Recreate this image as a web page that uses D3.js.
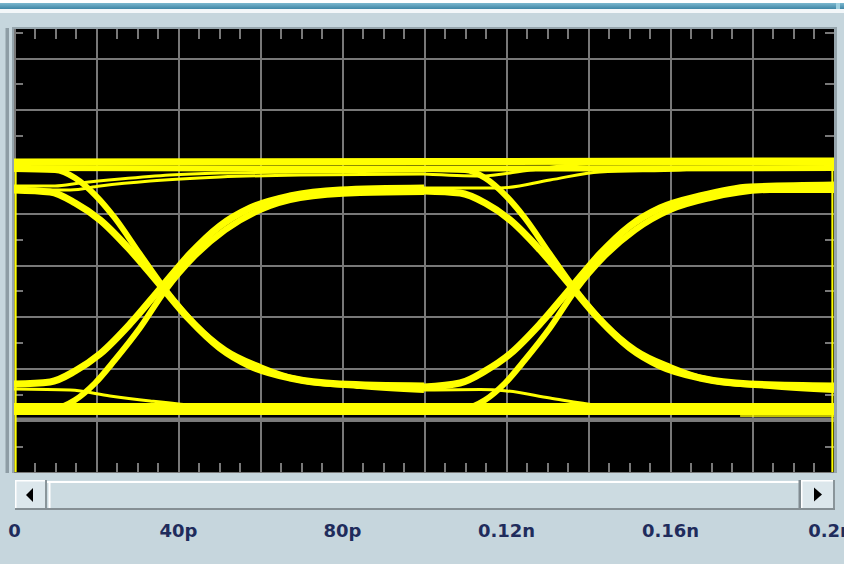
<!DOCTYPE html>
<html><head><meta charset="utf-8">
<script src="https://cdn.jsdelivr.net/npm/d3@7/dist/d3.min.js"></script>
<style>html,body{margin:0;padding:0;background:#c6d6dd;overflow:hidden}</style>
</head><body>
<svg id="c" width="844" height="564" xmlns="http://www.w3.org/2000/svg"></svg>
<script>
// ---------- data (time in ps, level in mV) ----------
const timeTicks = [0, 40, 80, 120, 160, 200];
const tickLabels = ["0", "40p", "80p", "0.12n", "0.16n", "0.2n"];
const gridTimes = [0, 20, 40, 60, 80, 100, 120, 140, 160, 180, 200];
const minorTimes = [5,10,15,25,30,35,45,50,55,65,70,75,85,90,95,105,110,115,125,130,135,145,150,155,165,170,175,185,190,195];
const gridLevels = [-200, -150, -100, -50, 0, 50, 100, 150, 200, 250];
const minorLevels = [-175, -125, -75, -25, 25, 75, 125, 175, 225];
const referenceLevel = [-149.3];

// steady levels
const hiSteadyA = [[0, 99.6], [100, 100.0], [200, 100.5]];
const hiSteadyB = [[0, 93.7], [100, 93.2], [200, 93.7]];
const loSteadyA = [[0, -136.2], [100, -136.2], [200, -136.2]];
const loSteadyB = [[0, -142.0], [100, -142.0], [200, -142.0]];

// first unit interval (0..100 ps)
const fallFromH1L = [[0,72.5],[8.8,70.5],[14.9,59.9],[21.0,43.5],[28.3,14.5],[35.6,-19.3],[42.9,-53.1],[50.2,-80.2],[57.6,-97.6],[67.3,-109.2],[79.5,-115.0],[100,-116.9]];
const fallFromHinfL = [[0,92.8],[10.0,91.8],[14.9,84.1],[19.8,67.6],[24.6,45.4],[30.7,10.6],[36.8,-23.2],[44.1,-57.0],[51.5,-82.1],[60.0,-98.5],[69.8,-111.1],[84.4,-116.9],[100,-120.8]];
const riseFromL1L = [[0,-115.0],[8.8,-113.0],[14.9,-102.4],[21.0,-85.9],[28.3,-57.0],[35.6,-23.2],[42.9,10.6],[50.2,37.7],[57.6,55.1],[67.3,66.7],[79.5,72.5],[100,74.4]];
const riseFromLinfL = [[0,-139.1],[10.0,-138.2],[14.9,-130.4],[19.8,-114.0],[24.6,-91.8],[30.7,-60.9],[36.8,-25.1],[44.1,8.7],[51.5,33.8],[60.0,53.1],[69.8,64.7],[84.4,69.6],[100,70.5]];
const stayHighAL = [[0,76.3],[10.0,76.3],[16.1,79.2],[25.9,83.1],[38.0,87.0],[50.2,88.9],[69.8,89.9],[100,90.8]];
const stayHighBL = [[0,72.5],[13.7,72.5],[21.0,76.3],[33.2,81.1],[50.2,85.0],[69.8,87.0],[100,87.9]];
const stayLowL = [[0,-119.8],[13.7,-120.8],[23.4,-126.6],[33.2,-131.4],[45.4,-136.2],[60.0,-138.2],[100,-139.1]];

// second unit interval (100..200 ps)
const fallFromH1R = [[100,71.5],[108.8,69.5],[114.9,59.9],[121.0,43.5],[128.3,14.5],[135.6,-19.3],[142.9,-53.1],[150.2,-80.2],[157.6,-97.6],[167.3,-109.2],[179.5,-115.0],[200,-116.9]];
const fallFromHinfR = [[100,92.8],[110.0,91.8],[114.9,84.1],[119.8,67.6],[124.6,45.4],[130.7,10.6],[136.8,-23.2],[144.1,-57.0],[151.5,-82.1],[160.0,-98.5],[169.8,-111.1],[184.4,-116.9],[200,-120.8]];
const riseFromL1R = [[100,-117.9],[108.8,-114.0],[114.9,-102.4],[121.0,-85.9],[128.3,-57.0],[135.6,-23.2],[142.9,10.6],[150.2,37.7],[157.6,55.1],[167.3,66.7],[179.5,75.4],[200,77.3]];
const riseFromLinfR = [[100,-139.1],[110.0,-138.2],[114.9,-130.4],[119.8,-114.0],[124.6,-91.8],[130.7,-60.9],[136.8,-25.1],[144.1,8.7],[151.5,33.8],[160.0,53.1],[169.8,64.7],[184.4,72.5],[200,72.5]];
const stayHighAR = [[100,87.9],[113.7,86.0],[125.9,91.8],[139.8,97.6],[200,97.6]];
const stayHighBR = [[100,74.4],[118.5,74.4],[130.7,82.1],[142.9,89.9],[162.4,91.8],[172.2,93.7],[200,94.7]];
const stayLowR = [[100,-120.8],[113.7,-120.3],[120.2,-121.7],[130.7,-128.5],[142.2,-135.3],[157.6,-138.2],[200,-139.1]];

// window-edge retraces
const leftEdge = [[0.4, 101.4], [0.4, -200]];
const rightEdge = [[199.6, 101.4], [199.6, -200]];
const rightTail = [[177.1, -145.9], [200, -145.9]];

// ---------- drawing ----------
const W = 844, H = 564;
const P = {l: 14, r: 834, t: 29, b: 473};
const svg = d3.select("#c");
const x = d3.scaleLinear().domain([0, 200]).range([P.l, P.r]);
const y = d3.scaleLinear().domain([-200, 250]).range([472, 6.25]);

const defs = svg.append("defs");
const g1 = defs.append("linearGradient").attr("id", "tb").attr("x1", 0).attr("y1", 0).attr("x2", 0).attr("y2", 1);
g1.append("stop").attr("offset", "0").attr("stop-color", "#7cb8cf");
g1.append("stop").attr("offset", "1").attr("stop-color", "#3f86a6");
defs.append("clipPath").attr("id", "clip").append("rect")
  .attr("x", P.l).attr("y", P.t).attr("width", P.r - P.l).attr("height", P.b - P.t);

// window chrome
svg.append("rect").attr("x", 0).attr("y", 0).attr("width", W).attr("height", H).attr("fill", "#c6d6dd");
svg.append("rect").attr("x", 0).attr("y", 0).attr("width", W).attr("height", 3).attr("fill", "#ffffff");
svg.append("rect").attr("x", 0).attr("y", 3).attr("width", W).attr("height", 6).attr("fill", "url(#tb)");
svg.append("rect").attr("x", 836).attr("y", 3).attr("width", 4).attr("height", 6).attr("fill", "#9fd0e0");
svg.append("rect").attr("x", 0).attr("y", 9).attr("width", W).attr("height", 4).attr("fill", "#f3f7f9");
svg.append("rect").attr("x", 5.5).attr("y", 28).attr("width", 3.5).attr("height", 445).attr("fill", "#8e9da5");

// plot frame
svg.append("rect").attr("x", 12).attr("y", 27).attr("width", 825).attr("height", 446).attr("fill", "#95a4ab");
svg.append("rect").attr("x", P.l).attr("y", P.t).attr("width", P.r - P.l).attr("height", P.b - P.t).attr("fill", "#000");

const plot = svg.append("g").attr("clip-path", "url(#clip)");
const gridColor = "#787878";

function styleAxis(g) {
  g.select(".domain").remove();
  g.selectAll("line").attr("stroke", gridColor).attr("stroke-width", 2).attr("shape-rendering", "crispEdges");
  g.selectAll("text").remove();
}
// vertical grid
plot.append("g").attr("transform", `translate(0,${P.b})`)
  .call(d3.axisBottom(x).tickValues(gridTimes).tickSize(-(P.b - P.t)).tickFormat("")).call(styleAxis);
// horizontal grid
plot.append("g").attr("transform", `translate(${P.l},0)`)
  .call(d3.axisLeft(y).tickValues(gridLevels).tickSize(-(P.r - P.l)).tickFormat("")).call(styleAxis);
// minor ticks
plot.append("g").attr("transform", `translate(0,${P.t})`)
  .call(d3.axisBottom(x).tickValues(minorTimes).tickSize(10).tickFormat("")).call(styleAxis);
plot.append("g").attr("transform", `translate(0,${P.b})`)
  .call(d3.axisTop(x).tickValues(minorTimes).tickSize(10).tickFormat("")).call(styleAxis);
plot.append("g").attr("transform", `translate(${P.l},0)`)
  .call(d3.axisRight(y).tickValues(minorLevels).tickSize(9).tickFormat("")).call(styleAxis);
plot.append("g").attr("transform", `translate(${P.r},0)`)
  .call(d3.axisLeft(y).tickValues(minorLevels).tickSize(9).tickFormat("")).call(styleAxis);

// reference level (gray)
plot.selectAll("line.ref").data(referenceLevel).enter().append("line").attr("class", "ref")
  .attr("x1", x(0)).attr("x2", x(200)).attr("y1", d => y(d)).attr("y2", d => y(d))
  .attr("stroke", "#7c7c7c").attr("stroke-width", 4);

// traces
const yellow = "#ffff00";
const smooth = d3.line().x(d => x(d[0])).y(d => y(d[1])).curve(d3.curveMonotoneX);
const straight = d3.line().x(d => x(d[0])).y(d => y(d[1]));
const traces = [
  {d: hiSteadyA, w: 7}, {d: hiSteadyB, w: 6}, {d: loSteadyA, w: 6}, {d: loSteadyB, w: 6},
  {d: stayHighAL, w: 3}, {d: stayHighBL, w: 3}, {d: stayLowL, w: 3},
  {d: stayHighAR, w: 3}, {d: stayHighBR, w: 3}, {d: stayLowR, w: 3},
  {d: fallFromH1L, w: 7}, {d: fallFromHinfL, w: 6}, {d: riseFromL1L, w: 7}, {d: riseFromLinfL, w: 6},
  {d: fallFromH1R, w: 7}, {d: fallFromHinfR, w: 6}, {d: riseFromL1R, w: 7}, {d: riseFromLinfR, w: 6}
];
plot.selectAll("path.tr").data(traces).enter().append("path").attr("class", "tr")
  .attr("d", t => smooth(t.d)).attr("fill", "none").attr("stroke", yellow)
  .attr("stroke-width", t => t.w).attr("stroke-linejoin", "round");
[leftEdge, rightEdge].forEach(e => plot.append("path").attr("d", straight(e))
  .attr("fill", "none").attr("stroke", yellow).attr("stroke-width", 2));
plot.append("path").attr("d", straight(rightTail)).attr("fill", "none").attr("stroke", yellow).attr("stroke-width", 1.5);

// scrollbar
const sb = svg.append("g");
sb.append("rect").attr("x", 15).attr("y", 480).attr("width", 820).attr("height", 30).attr("fill", "#d9e5ea");
sb.append("rect").attr("x", 15).attr("y", 480).attr("width", 32).attr("height", 30).attr("fill", "#dce7ec");
sb.append("rect").attr("x", 15).attr("y", 480).attr("width", 32).attr("height", 1.5).attr("fill", "#ffffff");
sb.append("rect").attr("x", 15).attr("y", 480).attr("width", 1.5).attr("height", 30).attr("fill", "#ffffff");
sb.append("rect").attr("x", 45).attr("y", 480).attr("width", 2).attr("height", 30).attr("fill", "#8a959a");
sb.append("rect").attr("x", 47).attr("y", 480).attr("width", 754).attr("height", 30).attr("fill", "#ccdbe1");
sb.append("rect").attr("x", 47).attr("y", 481).attr("width", 752).attr("height", 2).attr("fill", "#ffffff");
sb.append("rect").attr("x", 48.5).attr("y", 481).attr("width", 2).attr("height", 27).attr("fill", "#ffffff");
sb.append("rect").attr("x", 798.5).attr("y", 480).attr("width", 2.5).attr("height", 30).attr("fill", "#808b91");
sb.append("rect").attr("x", 801).attr("y", 480).attr("width", 34).attr("height", 30).attr("fill", "#dce7ec");
sb.append("rect").attr("x", 801).attr("y", 480).attr("width", 34).attr("height", 1.5).attr("fill", "#ffffff");
sb.append("rect").attr("x", 801).attr("y", 480).attr("width", 1.5).attr("height", 30).attr("fill", "#ffffff");
sb.append("rect").attr("x", 833).attr("y", 480).attr("width", 2).attr("height", 30).attr("fill", "#8a959a");
sb.append("rect").attr("x", 15).attr("y", 508).attr("width", 820).attr("height", 2).attr("fill", "#858f94");
sb.append("path").attr("d", "M26,495 L33,488 L33,502 Z").attr("fill", "#000");
sb.append("path").attr("d", "M822,494.5 L814,487.5 L814,501.5 Z").attr("fill", "#000");

// axis labels
const ax = svg.append("g").attr("transform", "translate(0,520)")
  .call(d3.axisBottom(x).tickValues(timeTicks).tickSize(0).tickFormat((d, i) => tickLabels[i]));
ax.select(".domain").remove();
ax.selectAll("text").attr("y", 17).attr("dy", 0)
  .attr("dx", (d, i) => i === tickLabels.length - 1 ? -4 : 0)
  .attr("font-family", "'DejaVu Sans', sans-serif").attr("font-weight", "bold").attr("font-size", 18)
  .attr("fill", "#1f2c5c");
</script>
</body></html>
